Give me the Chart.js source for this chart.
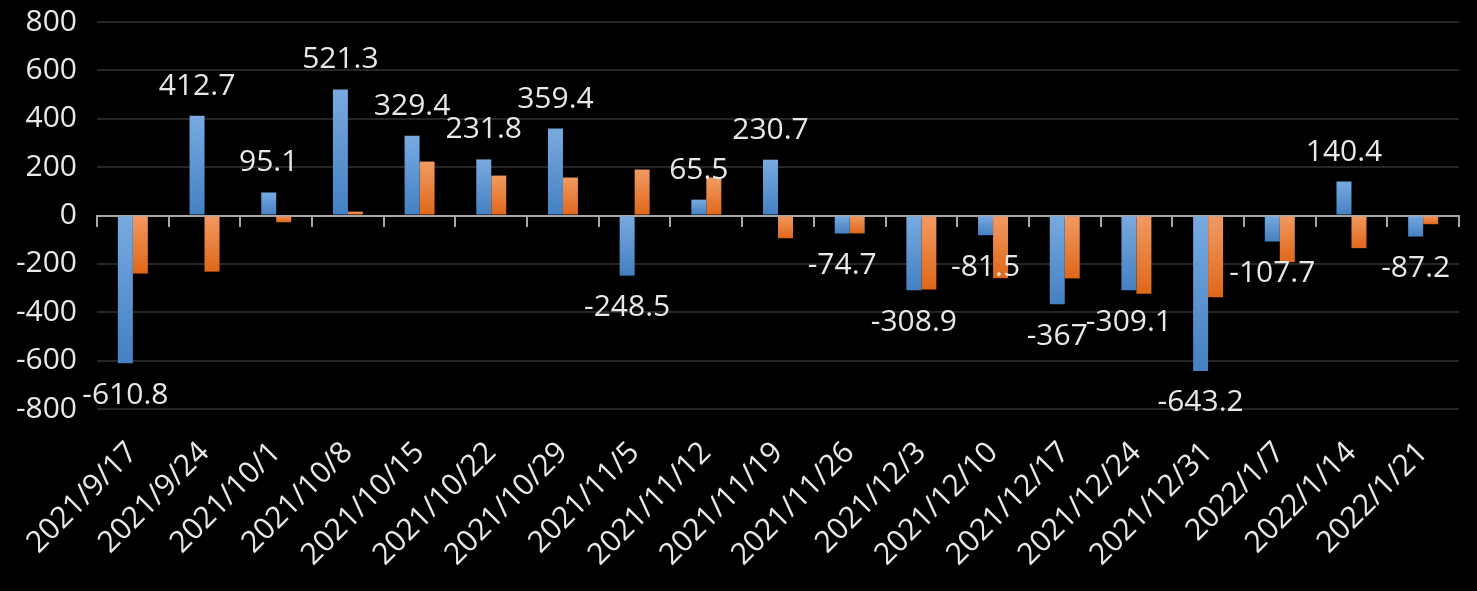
<!DOCTYPE html>
<html>
<head>
<meta charset="utf-8">
<script src="https://cdn.jsdelivr.net/npm/chart.js@4"></script>
<style>
  html, body { margin: 0; padding: 0; background: #000; }
  #wrap { width: 1477px; height: 591px; position: relative; background: #000; }
</style>
</head>
<body>
<div id="wrap"><canvas id="c"></canvas></div>
<script>
const categories = [
  "2021/9/17", "2021/9/24", "2021/10/1", "2021/10/8", "2021/10/15", "2021/10/22",
  "2021/10/29", "2021/11/5", "2021/11/12", "2021/11/19", "2021/11/26", "2021/12/3",
  "2021/12/10", "2021/12/17", "2021/12/24", "2021/12/31", "2022/1/7", "2022/1/14", "2022/1/21"
];
const seriesBlue = [
  -610.8, 412.7, 95.1, 521.3, 329.4, 231.8, 359.4, -248.5, 65.5, 230.7,
  -74.7, -308.9, -81.5, -367, -309.1, -643.2, -107.7, 140.4, -87.2
];
const seriesOrange = [
  -240, -232, -28, 16, 223, 165, 157, 190, 157, -94,
  -74, -306, -259, -260, -323, -338, -193, -135, -36
];
const yMin = -800, yMax = 800, yStep = 200;

const TEXT = '#e8e8e8';
const FONT = '"Open Sans", "Noto Sans", sans-serif';
const FS = 30;

function gradFill(topColor, bottomColor) {
  return (ctx) => {
    if (ctx.type !== 'data') return topColor;
    const chart = ctx.chart;
    const ys = chart.scales && chart.scales.y;
    if (!ys) return topColor;
    const p0 = ys.getPixelForValue(0);
    const p1 = ys.getPixelForValue(ctx.raw);
    const t = Math.min(p0, p1), b = Math.max(p0, p1);
    if (!isFinite(t) || !isFinite(b) || b - t < 1) return topColor;
    const g = chart.ctx.createLinearGradient(0, t, 0, b);
    g.addColorStop(0, topColor);
    g.addColorStop(1, bottomColor);
    return g;
  };
}

const valueLabels = {
  id: 'valueLabels',
  afterDatasetsDraw(chart) {
    const meta = chart.getDatasetMeta(0);
    const c = chart.ctx;
    c.save();
    c.font = FS + 'px ' + FONT;
    c.fillStyle = TEXT;
    c.textAlign = 'center';
    c.textBaseline = 'alphabetic';
    meta.data.forEach((el, i) => {
      const v = seriesBlue[i];
      const y = v >= 0 ? el.y - 21 : el.y + 19 + FS * 0.714;
      c.fillText(String(v), el.x, y);
    });
    c.restore();
  }
};

new Chart(document.getElementById('c'), {
  type: 'bar',
  data: {
    labels: categories,
    datasets: [
      {
        label: 'Series 1',
        data: seriesBlue,
        backgroundColor: gradFill('#78aae0', '#4480c2'),
        borderWidth: 0,
        xAxisID: 'x',
        yAxisID: 'y'
      },
      {
        label: 'Series 2',
        data: seriesOrange,
        backgroundColor: gradFill('#f29a63', '#df6718'),
        borderWidth: 0,
        xAxisID: 'x',
        yAxisID: 'y'
      }
    ]
  },
  options: {
    responsive: true,
    maintainAspectRatio: false,
    animation: false,
    devicePixelRatio: 1,
    categoryPercentage: 0.418,
    barPercentage: 1,
    layout: { padding: { top: 22, right: 18, bottom: 0, left: 0 } },
    plugins: {
      legend: { display: false },
      tooltip: { enabled: false },
      title: { display: false }
    },
    scales: {
      x: {
        type: 'category',
        position: { y: 0 },
        offset: true,
        z: 1,
        grid: {
          display: true,
          offset: true,
          drawOnChartArea: false,
          drawTicks: true,
          tickLength: 10,
          color: '#a6a6a6',
          lineWidth: 2
        },
        border: { display: true, color: '#a6a6a6', width: 2 },
        ticks: { display: false }
      },
      x2: {
        type: 'category',
        position: 'bottom',
        offset: true,
        labels: categories,
        grid: { display: false, drawTicks: false },
        border: { display: false },
        ticks: {
          color: TEXT,
          font: { family: FONT, size: FS },
          minRotation: 45,
          maxRotation: 45,
          autoSkip: false,
          padding: 26
        },
        afterFit(s) { s.height = 182; s.paddingLeft = 0; s.paddingRight = 0; }
      },
      y: {
        min: yMin,
        max: yMax,
        ticks: {
          stepSize: yStep,
          color: TEXT,
          font: { family: FONT, size: FS },
          padding: 20
        },
        grid: {
          color: (ctx) => (ctx.tick && ctx.tick.value === 0) ? 'rgba(0,0,0,0)' : '#262626',
          lineWidth: 2,
          drawTicks: false
        },
        border: { display: false },
        afterFit(s) { s.width = 97; s.paddingTop = 0; s.paddingBottom = 0; }
      }
    }
  },
  plugins: [valueLabels]
});
</script>
</body>
</html>
